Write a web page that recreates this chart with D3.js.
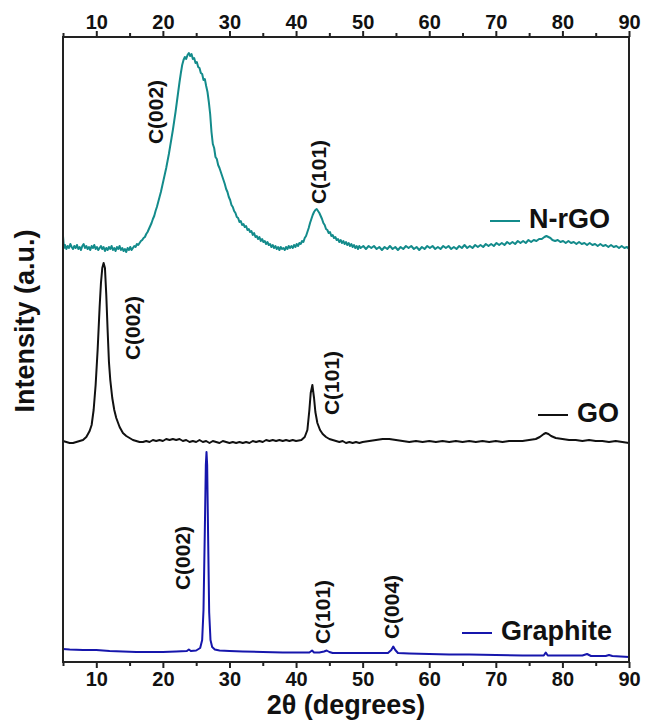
<!DOCTYPE html>
<meta charset="utf-8">
<style>
  body { margin: 0; background: #fff; }
  svg text { font-family: "Liberation Sans", Arial, sans-serif; font-weight: bold; fill: #111; }
</style>
<body>
<div id="chart"></div>
<script src="https://d3js.org/d3.v7.min.js"></script>
<script>

// 2theta (degrees), intensity (a.u., curves stacked with offset)
var nrgoData = [
  [5.0,426],[5.15,414],[5.3,417],[5.5,413],[5.7,416],[5.9,414],[6.1,418],[6.3,415],[6.5,413],[6.7,416],
  [6.9,414],[7.1,417],[7.3,413],[7.5,415],[7.7,412],[7.9,416],[8.1,418],[8.3,414],[8.5,416],[8.7,413],
  [8.9,415],[9.1,412],[9.3,416],[9.5,414],[9.7,417],[9.9,413],[10.1,415],[10.3,412],[10.5,414],[10.7,416],
  [10.9,413],[11.1,415],[11.3,411],[11.5,414],[11.7,412],[11.9,415],[12.1,413],[12.3,416],[12.5,412],[12.7,414],
  [12.9,411],[13.1,415],[13.3,413],[13.5,416],[13.7,412],[13.9,414],[14.1,411],[14.3,413],[14.5,410],[14.7,414],
  [14.9,412],[15.1,415],[15.3,412],[15.5,414],[15.7,416],[15.9,415],[16.1,418],[16.3,417],[16.5,419],[16.7,421],
  [16.9,422],[17.1,424],[17.3,425],[17.5,428],[17.7,430],[17.9,433],[18.1,436],[18.3,439],[18.5,443],[18.7,446],
  [18.9,451],[19.1,455],[19.3,460],[19.5,465],[19.7,470],[19.9,476],[20.1,482],[20.3,488],[20.5,494],[20.7,501],
  [20.9,508],[21.1,516],[21.3,524],[21.5,532],[21.7,541],[21.9,550],[22.1,560],[22.3,570],[22.5,580],[22.7,589],
  [22.9,597],[23.1,602],[23.3,605],[23.5,603],[23.7,607],[23.9,609],[24.1,606],[24.3,608],[24.5,603],[24.7,604],
  [24.9,599],[25.1,600],[25.3,595],[25.5,594],[25.7,589],[25.9,588],[26.1,582],[26.3,583],[26.5,576],[26.7,570],
  [26.9,560],[27.1,548],[27.3,530],[27.5,518],[27.7,514],[27.9,505],[28.1,503],[28.3,497],[28.5,494],[28.7,490],
  [28.9,486],[29.1,482],[29.3,478],[29.5,473],[29.7,470],[29.9,465],[30.1,462],[30.3,457],[30.5,455],[30.7,451],
  [30.9,449],[31.1,445],[31.3,444],[31.5,440],[31.7,441],[31.9,437],[32.1,438],[32.3,435],[32.5,436],[32.7,432],
  [32.9,433],[33.1,430],[33.3,431],[33.5,427],[33.7,429],[33.9,425],[34.1,426],[34.3,423],[34.5,425],[34.7,421],
  [34.9,423],[35.1,420],[35.3,421],[35.5,418],[35.7,420],[35.9,417],[36.1,418],[36.3,415],[36.5,417],[36.7,414],
  [36.9,416],[37.1,413],[37.3,415],[37.5,412],[37.7,415],[37.9,413],[38.1,414],[38.3,412],[38.5,415],[38.7,413],
  [38.9,416],[39.1,414],[39.3,416],[39.5,414],[39.7,417],[39.9,415],[40.1,418],[40.3,416],[40.5,419],[40.7,418],
  [40.9,421],[41.1,420],[41.3,424],[41.5,426],[41.7,430],[41.9,434],[42.1,439],[42.3,443],[42.5,447],[42.7,450],
  [42.9,452],[43.1,453],[43.3,451],[43.5,449],[43.7,446],[43.9,443],[44.1,439],[44.3,437],[44.5,433],[44.7,432],
  [44.9,429],[45.1,430],[45.3,426],[45.5,427],[45.7,424],[45.9,425],[46.1,422],[46.3,423],[46.5,420],[46.7,422],
  [46.9,419],[47.1,421],[47.3,418],[47.5,420],[47.7,417],[47.9,419],[48.1,416],[48.3,418],[48.5,415],[48.7,417],
  [48.9,414],[49.1,416],[49.3,413],[49.5,416],[49.7,414],[50.1,416],[50.5,413],[50.9,416],[51.3,414],[51.7,416],
  [52.1,413],[52.5,415],[52.9,412],[53.3,415],[53.7,413],[54.1,416],[54.5,413],[54.9,415],[55.3,412],[55.7,415],
  [56.1,413],[56.5,416],[56.9,414],[57.3,416],[57.7,413],[58.1,415],[58.5,412],[58.9,415],[59.3,413],[59.7,416],
  [60.1,414],[60.5,416],[60.9,413],[61.3,415],[61.7,413],[62.1,416],[62.5,414],[62.9,416],[63.3,413],[63.7,415],
  [64.1,413],[64.5,416],[64.9,414],[65.3,417],[65.7,414],[66.1,416],[66.5,414],[66.9,417],[67.3,415],[67.7,417],
  [68.1,415],[68.5,418],[68.9,416],[69.3,418],[69.7,416],[70.1,419],[70.5,417],[70.9,419],[71.3,417],[71.7,420],
  [72.1,418],[72.5,420],[72.9,418],[73.3,421],[73.7,419],[74.1,421],[74.5,419],[74.9,422],[75.3,420],[75.7,422],
  [76.1,421],[76.5,423],[76.9,423],[77.3,425],[77.6,426],[77.9,425],[78.2,424],[78.5,422],[78.9,421],[79.3,422],
  [79.7,420],[80.1,421],[80.5,419],[80.9,421],[81.3,419],[81.7,420],[82.1,418],[82.5,420],[82.9,418],[83.3,419],
  [83.7,417],[84.1,419],[84.5,417],[84.9,418],[85.3,416],[85.7,418],[86.1,416],[86.5,417],[86.9,415],[87.3,417],
  [87.7,415],[88.1,416],[88.5,414],[88.9,416],[89.3,414],[89.7,415],[90,413]
];

var goData = [
  [5.0,221],[5.5,220],[6.0,219],[6.5,219],[7.0,220],[7.5,221],[8.0,222],[8.5,225],[9.0,231],[9.3,237],
  [9.6,252],[9.9,277],[10.2,312],[10.5,355],[10.7,379],[10.9,394],[11.1,399],[11.3,394],[11.5,367],[11.7,332],
  [11.9,300],[12.1,282],[12.4,264],[12.7,252],[13.0,244],[13.5,235],[14.0,229],[14.5,226],[15.0,224],[15.5,222],
  [16.0,221],[16.5,220],[17.0,220],[17.5,221],[18.0,220],[18.5,222],[19.0,221],[19.5,222],[20.0,221],[20.5,223],
  [21.0,222],[21.5,223],[22.0,222],[22.5,223],[23.0,221],[23.5,222],[24.0,220],[24.5,221],[25.0,220],[25.5,222],
  [26.0,220],[26.5,221],[27.0,219],[27.5,221],[28.0,220],[28.5,219],[29.0,221],[29.5,220],[30.0,219],[30.5,220],
  [31.0,219],[31.5,220],[32.0,219],[32.5,220],[33.0,219],[33.5,221],[34.0,220],[34.5,221],[35.0,220],[35.5,222],
  [36.0,221],[36.5,222],[37.0,221],[37.5,222],[38.0,221],[38.5,222],[39.0,221],[39.5,222],[40.0,221],[40.8,222],
  [41.3,225],[41.7,232],[42.0,252],[42.2,269],[42.45,277],[42.7,264],[42.9,250],[43.2,239],[43.6,232],[44.0,228],
  [44.5,225],[45.0,223],[45.5,222],[46,221],[46.5,220],[47,221],[47.5,219],[48,220],[48.5,219],[49,220],
  [49.5,219],[50,220],[51,221],[52,222],[53,223],[54,223],[55,222],[56,221],[57,220],[58,221],
  [59,220],[60,221],[61,220],[62,221],[63,220],[64,221],[65,220],[66,221],[67,220],[68,221],
  [69,220],[70,221],[71,220],[72,221],[73,221],[74,221],[75,222],[76,223],[76.6,225],[77.2,228],
  [77.5,229],[77.9,228],[78.3,226],[79,224],[80,223],[81,222],[82,222],[83,221],[84,222],[85,221],
  [86,221],[87,220],[88,221],[89,220],[90,219]
];

var graphiteData = [
  [5,13],[6,12.5],[8,12],[10,12],[12,11],[14,10.5],[16,10],[18,10],[20,10],[22,10.5],
  [23.6,11],[23.9,12.5],[24.2,11],[25.0,11.5],[25.6,14],[25.9,22],[26.1,52],[26.3,132],[26.45,197],[26.55,210],
  [26.65,197],[26.8,122],[26.95,50],[27.15,22],[27.4,15],[27.8,12.5],[28.5,11.5],[30,11],[32,10.5],[35,10],
  [38,9.5],[42.0,9.5],[42.4,11.5],[42.7,9.5],[43.5,9.5],[44.2,10.5],[44.6,11.5],[45.0,10],[45.5,9],[48,9],
  [51,9],[53.8,9],[54.3,12],[54.6,15.5],[54.9,12],[55.3,9],[57,8.5],[60,8],[63,7.5],[66,7.5],
  [70,7],[74,6.5],[77.2,6.5],[77.5,9.5],[77.8,6.5],[80,6.5],[83,6.5],[83.7,8],[84.3,6],[86.5,6],
  [87,7],[87.5,6],[90,5]
];

var seriesNames = ["N-rGO", "GO", "Graphite"];
var seriesColors = ["#138b8b", "#111111", "#1616ac"];

var majorTicks = [10, 20, 30, 40, 50, 60, 70, 80, 90];
var minorTicks = [5, 15, 25, 35, 45, 55, 65, 75, 85];

// peak labels: [series, text, 2theta, intensity]
var peakLabels = [
  [0, "C(002)", 18.92, 550],
  [0, "C(101)", 43.4, 490],
  [1, "C(002)", 15.47, 334],
  [1, "C(101)", 45.35, 279],
  [2, "C(002)", 22.98, 104],
  [2, "C(101)", 43.99, 50],
  [2, "C(004)", 54.36, 55]
];

var W = 646, H = 726;
var margin = {top: 37, right: 17, bottom: 64, left: 63};
var width = W - margin.left - margin.right,
    height = H - margin.top - margin.bottom;

var x = d3.scaleLinear().domain([5, 90]).range([0, width]);
var y = d3.scaleLinear().domain([0, 625]).range([height, 0]);

var svg = d3.select("#chart").append("svg")
    .attr("width", W)
    .attr("height", H);

svg.append("rect").attr("width", W).attr("height", H).attr("fill", "#fff");

var g = svg.append("g")
    .attr("transform", "translate(" + margin.left + "," + margin.top + ")");

// curves
var line = d3.line()
    .x(function(d){ return x(d[0]); })
    .y(function(d){ return y(d[1]); });

[nrgoData, goData, graphiteData].forEach(function(data, i){
  g.append("path")
    .datum(data)
    .attr("fill", "none")
    .attr("stroke", seriesColors[i])
    .attr("stroke-width", 2)
    .attr("stroke-linejoin", "round")
    .attr("d", line);
});

// axes
function styleAxis(sel){
  sel.select(".domain").remove();
  sel.selectAll("line").attr("stroke", "#222").attr("stroke-width", 2);
  sel.selectAll("text")
    .style("font-size", "20px")
    .style("font-family", "'Liberation Sans', Arial, sans-serif")
    .style("font-weight", "bold")
    .attr("fill", "#111");
}

g.append("g")
    .attr("transform", "translate(0," + height + ")")
    .call(d3.axisBottom(x).tickValues(majorTicks).tickSize(6).tickPadding(4).tickSizeOuter(0))
    .call(styleAxis);
g.append("g")
    .attr("transform", "translate(0," + height + ")")
    .call(d3.axisBottom(x).tickValues(minorTicks).tickSize(4).tickFormat("").tickSizeOuter(0))
    .call(styleAxis);

g.append("g")
    .call(d3.axisTop(x).tickValues(majorTicks).tickSize(6).tickPadding(2).tickSizeOuter(0))
    .call(styleAxis);
g.append("g")
    .call(d3.axisTop(x).tickValues(minorTicks).tickSize(4).tickFormat("").tickSizeOuter(0))
    .call(styleAxis);

// frame
g.append("rect")
    .attr("width", width)
    .attr("height", height)
    .attr("fill", "none")
    .attr("stroke", "#222")
    .attr("stroke-width", 2);

// peak labels
g.selectAll(".peak")
  .data(peakLabels)
  .enter().append("text")
    .attr("class", "peak")
    .attr("transform", function(d){ return "translate(" + x(d[2]) + "," + y(d[3]) + ") rotate(-90)"; })
    .attr("text-anchor", "middle")
    .attr("dy", "0.36em")
    .style("font-size", "21px")
    .text(function(d){ return d[1]; });

// legends (one per curve)
var legendPos = [
  {x: 427, y: 184},
  {x: 475, y: 378},
  {x: 399, y: 596}
];
legendPos.forEach(function(p, i){
  var lg = g.append("g").attr("transform", "translate(" + p.x + "," + p.y + ")");
  lg.append("line")
    .attr("x1", 0).attr("x2", 30)
    .attr("y1", 0).attr("y2", 0)
    .attr("stroke", seriesColors[i])
    .attr("stroke-width", 2);
  lg.append("text")
    .attr("x", 39)
    .attr("y", 7)
    .style("font-size", "27px")
    .text(seriesNames[i]);
});

// axis titles
svg.append("text")
    .attr("transform", "translate(24,321) rotate(-90)")
    .attr("text-anchor", "middle")
    .attr("dy", "0.36em")
    .style("font-size", "27px")
    .text("Intensity (a.u.)");

svg.append("text")
    .attr("x", margin.left + width / 2)
    .attr("y", 714)
    .attr("text-anchor", "middle")
    .style("font-size", "27px")
    .text("2\u03b8 (degrees)");

</script>
</body>
